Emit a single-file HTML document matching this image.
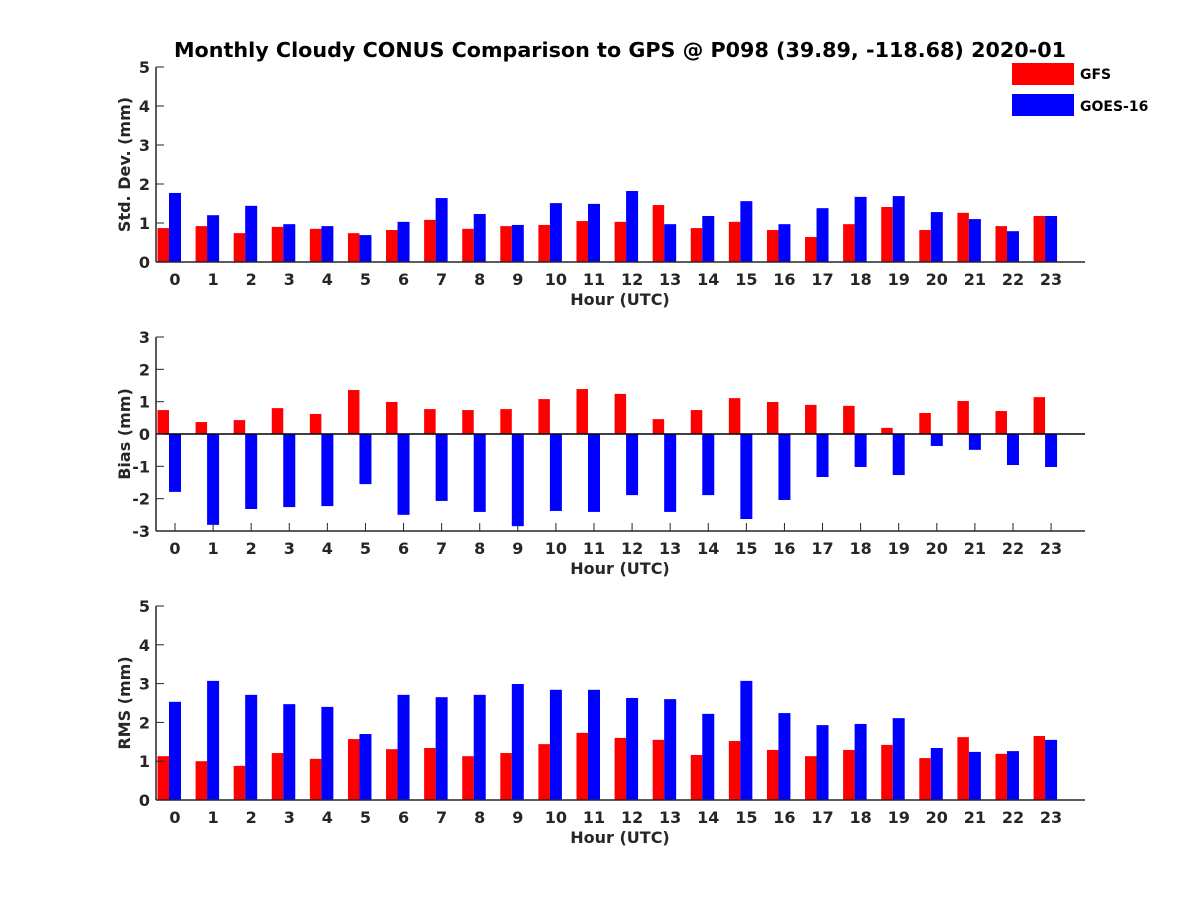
<!DOCTYPE html>
<html><head><meta charset="utf-8"><style>
body{margin:0;background:#fff}
svg{display:block;font-family:"DejaVu Sans","Liberation Sans",sans-serif;font-weight:bold}
</style></head><body>
<svg id="chart" width="1200" height="900">
<text x="620" y="57" text-anchor="middle" font-size="20.7" fill="#000">Monthly Cloudy CONUS Comparison to GPS @ P098 (39.89, -118.68) 2020-01</text>
<g>
<rect x="1012" y="63" width="62" height="22" fill="#ff0000"/>
<text x="1080" y="79" font-size="14">GFS</text>
<rect x="1012" y="94" width="62" height="22" fill="#0000ff"/>
<text x="1080" y="111" font-size="14">GOES-16</text>
</g>
</svg>
<script>
const hours=[0,1,2,3,4,5,6,7,8,9,10,11,12,13,14,15,16,17,18,19,20,21,22,23];
const stdGFS=[0.87,0.92,0.74,0.9,0.85,0.74,0.82,1.08,0.85,0.92,0.95,1.05,1.03,1.46,0.87,1.03,0.82,0.64,0.97,1.41,0.82,1.26,0.92,1.18];
const stdGOES=[1.77,1.2,1.44,0.97,0.92,0.69,1.03,1.64,1.23,0.95,1.51,1.49,1.82,0.97,1.18,1.56,0.97,1.38,1.67,1.69,1.28,1.1,0.79,1.18];
const biasGFS=[0.74,0.37,0.43,0.8,0.62,1.36,0.99,0.77,0.74,0.77,1.08,1.39,1.24,0.46,0.74,1.11,0.99,0.9,0.87,0.19,0.65,1.02,0.71,1.14];
const biasGOES=[-1.79,-2.81,-2.32,-2.26,-2.23,-1.55,-2.5,-2.07,-2.41,-2.85,-2.38,-2.41,-1.89,-2.41,-1.89,-2.63,-2.04,-1.33,-1.02,-1.27,-0.37,-0.49,-0.96,-1.02];
const rmsGFS=[1.13,1.0,0.88,1.21,1.06,1.57,1.31,1.34,1.13,1.21,1.44,1.73,1.6,1.55,1.16,1.52,1.29,1.13,1.29,1.42,1.08,1.62,1.19,1.65];
const rmsGOES=[2.53,3.07,2.71,2.47,2.4,1.7,2.71,2.65,2.71,2.99,2.84,2.84,2.63,2.6,2.22,3.07,2.24,1.93,1.96,2.11,1.34,1.24,1.26,1.55];
const stdTicks=[0,1,2,3,4,5];
const biasTicks=[-3,-2,-1,0,1,2,3];
const rmsTicks=[0,1,2,3,4,5];

const NS="http://www.w3.org/2000/svg";
const svg=document.getElementById('chart');
function mk(tag,attrs,parent){const e=document.createElementNS(NS,tag);for(const k in attrs)e.setAttribute(k,attrs[k]);(parent||svg).appendChild(e);return e;}
const X0=156,X1=1085;
function xc(h){return 169+h*38.09;}
function panel(name,top,bottom,ymin,ymax,ticks,gfs,goes,ylabel){
  const g=mk('g',{});
  
  
  const ys=v=>bottom-(v-ymin)/(ymax-ymin)*(bottom-top);
  hours.forEach(h=>{
    mk('line',{x1:xc(h)+6,x2:xc(h)+6,y1:bottom,y2:bottom-8,stroke:'#262626','stroke-width':1},g);
  });
  hours.forEach((h,i)=>{
    const y0=ys(Math.max(0,ymin));
    const r=mk('rect',{x:xc(h)-11.5,width:11.5,y:Math.min(ys(gfs[i]),y0),height:Math.abs(ys(gfs[i])-y0),fill:'#ff0000'},g);
    
    
    const b=mk('rect',{x:xc(h),width:12,y:Math.min(ys(goes[i]),y0),height:Math.abs(ys(goes[i])-y0),fill:'#0000ff'},g);
    
    
  });
  mk('line',{x1:X0,x2:X0,y1:top,y2:bottom,stroke:'#262626','stroke-width':1.5},g);
  mk('line',{x1:X0,x2:X1,y1:bottom,y2:bottom,stroke:'#262626','stroke-width':1.5},g);
  if(ymin<0) mk('line',{x1:X0,x2:X1,y1:ys(0),y2:ys(0),stroke:'#000','stroke-width':1.5},g);
  ticks.forEach(t=>{
    mk('line',{x1:X0,x2:X0+8,y1:ys(t),y2:ys(t),stroke:'#262626','stroke-width':1},g);
    const tx=mk('text',{x:X0-6,y:ys(t)+6,'text-anchor':'end','font-size':16,fill:'#262626'},g);
    tx.textContent=t;
    
    
  });
  hours.forEach(h=>{
    const tx=mk('text',{x:xc(h)+6,y:bottom+23,'text-anchor':'middle','font-size':16,fill:'#262626'},g);
    tx.textContent=h;
    
    
  });
  const xl=mk('text',{x:620,y:bottom+43,'text-anchor':'middle','font-size':16,fill:'#262626'},g);
  xl.textContent='Hour (UTC)';
  
  
  const cy=(top+bottom)/2;
  const yl=mk('text',{x:130,y:cy,'text-anchor':'middle','font-size':16,fill:'#262626',transform:'rotate(-90 130 '+cy+')'},g);
  yl.textContent=ylabel;
  
  
}
panel('std',67,262,0,5,stdTicks,stdGFS,stdGOES,'Std. Dev. (mm)');
panel('bias',337,531,-3,3,biasTicks,biasGFS,biasGOES,'Bias (mm)');
panel('rms',606,800,0,5,rmsTicks,rmsGFS,rmsGOES,'RMS (mm)');
</script>
</body></html>
